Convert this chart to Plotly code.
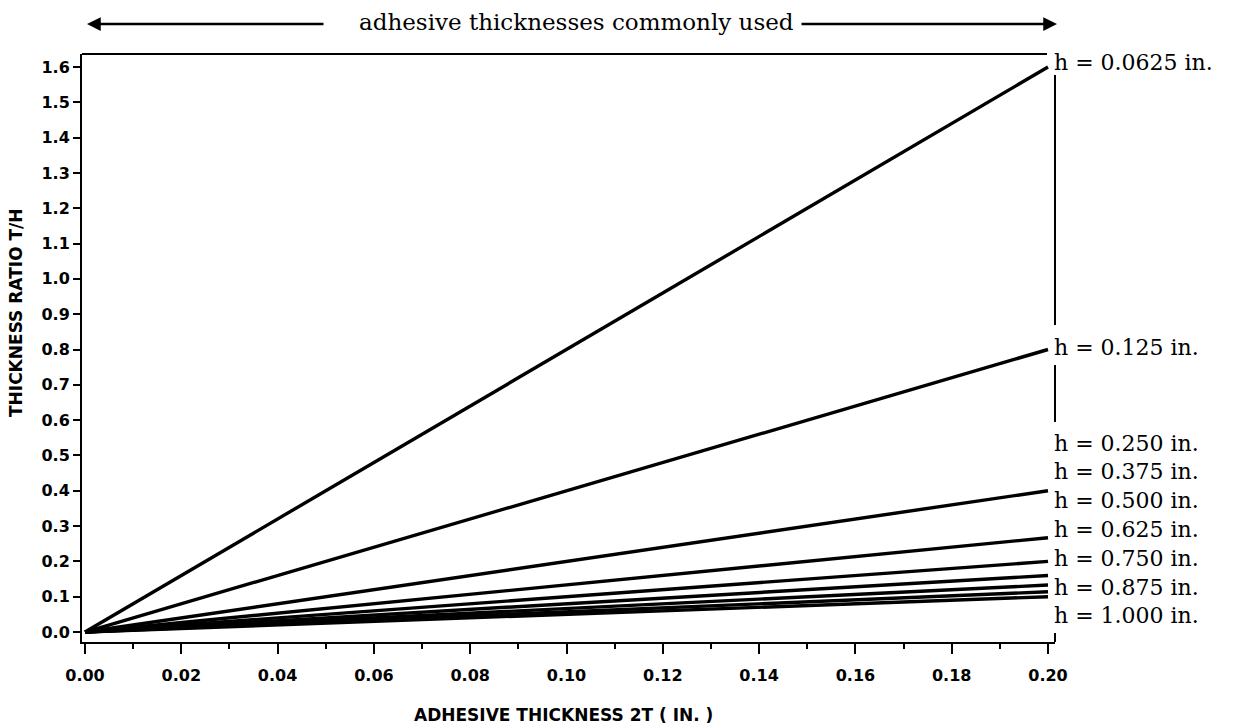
import plotly.graph_objects as go

# Plate thickness h (in.) and the T/H ratio each line reaches at 2T = 0.20 in.
thickness_h = [0.0625, 0.125, 0.250, 0.375, 0.500, 0.625, 0.750, 0.875, 1.000]
adhesive_2t = [0.0, 0.20]
ratio_at_end = [1.60, 0.80, 0.40, 0.267, 0.20, 0.16, 0.133, 0.114, 0.10]
label_text = [
    "h = 0.0625 in.", "h = 0.125 in.", "h = 0.250 in.", "h = 0.375 in.",
    "h = 0.500 in.", "h = 0.625 in.", "h = 0.750 in.", "h = 0.875 in.",
    "h = 1.000 in.",
]
x_ticks = [0.00, 0.02, 0.04, 0.06, 0.08, 0.10, 0.12, 0.14, 0.16, 0.18, 0.20]
y_ticks = [round(0.1 * i, 1) for i in range(17)]

W, H = 1233, 727
ML, MR, MT, MB = 82, 178, 54, 85
PW, PH = W - ML - MR, H - MT - MB


def px(xp):
    return (xp - ML) / PW


def py(yp):
    return (H - MB - yp) / PH


fig = go.Figure()
for h, r in zip(thickness_h, ratio_at_end):
    fig.add_trace(go.Scatter(
        x=adhesive_2t, y=[0.0, r], mode="lines",
        line=dict(color="black", width=3.4), name=f"h = {h}",
        showlegend=False, hoverinfo="skip",
    ))

tick_font = dict(family="DejaVu Sans", size=16, color="black", weight="bold")
label_font = dict(family="DejaVu Serif", size=22, color="black")
top_font = dict(family="DejaVu Serif", size=23, color="black")
title_font = dict(family="DejaVu Sans", size=17, color="black", weight="bold")

fig.update_xaxes(
    range=[-0.000623, 0.201454], tickvals=x_ticks,
    ticktext=[f"{v:.2f}" for v in x_ticks],
    showline=True, linecolor="black", linewidth=2, mirror=False,
    ticks="outside", ticklen=10, tickwidth=2, tickcolor="black",
    minor=dict(dtick=0.01, tick0=0, ticks="outside", ticklen=5, tickwidth=2, tickcolor="black"),
    showgrid=False, zeroline=False, tickfont=tick_font, ticklabelstandoff=8,
)
fig.update_yaxes(
    range=[-0.0283, 1.6368], tickvals=y_ticks,
    ticktext=[f"{v:.1f}" for v in y_ticks],
    showline=True, linecolor="black", linewidth=2,
    ticks="outside", ticklen=7, tickwidth=2, tickcolor="black",
    showgrid=False, zeroline=False, tickfont=tick_font,
)

shapes = []
# top border, stopping short of the labels column
shapes.append(dict(type="line", xref="paper", yref="paper", x0=0, x1=px(1047),
                   y0=1, y1=1, line=dict(color="black", width=2)))
# right border, broken where the labels sit
for y0, y1 in [(75, 325), (365, 422), (633, 642)]:
    shapes.append(dict(type="line", xref="paper", yref="paper", x0=px(1055), x1=px(1055),
                       y0=py(y0), y1=py(y1), line=dict(color="black", width=2)))

annotations = []
label_rows = [63, 347] + [443 + 28.8 * i for i in range(7)]
for txt, yrow in zip(label_text, label_rows):
    annotations.append(dict(text=txt, xref="paper", yref="paper", x=px(1053), y=py(yrow),
                            xanchor="left", yanchor="middle", showarrow=False,
                            font=label_font, borderpad=0))

# range arrows above the plot
annotations.append(dict(text="", xref="paper", yref="paper", x=px(87), y=py(24),
                        axref="pixel", ayref="pixel", ax=238, ay=0, showarrow=True,
                        arrowhead=2, arrowsize=1.1, arrowwidth=2.5, arrowcolor="black"))
annotations.append(dict(text="", xref="paper", yref="paper", x=px(1057), y=py(24),
                        axref="pixel", ayref="pixel", ax=-257, ay=0, showarrow=True,
                        arrowhead=2, arrowsize=1.1, arrowwidth=2.5, arrowcolor="black"))
annotations.append(dict(text="adhesive thicknesses commonly used", xref="paper", yref="paper",
                        x=px(576), y=py(22), xanchor="center", yanchor="middle",
                        showarrow=False, font=top_font))

# axis titles
annotations.append(dict(text="THICKNESS RATIO T/H", xref="paper", yref="paper",
                        x=px(16), y=py(313), textangle=-90, xanchor="center", yanchor="middle",
                        showarrow=False, font=title_font))
annotations.append(dict(text="ADHESIVE THICKNESS 2T ( IN. )", xref="paper", yref="paper",
                        x=px(563), y=py(715), xanchor="center", yanchor="middle",
                        showarrow=False, font=title_font))

fig.update_layout(
    width=W, height=H, margin=dict(l=ML, r=MR, t=MT, b=MB),
    paper_bgcolor="white", plot_bgcolor="white",
    shapes=shapes, annotations=annotations,
)

fig.write_html("out.html")
